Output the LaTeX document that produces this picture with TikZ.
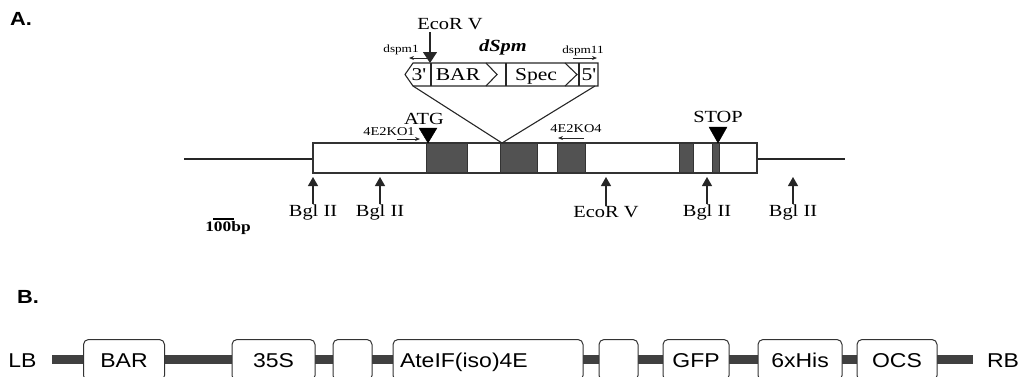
\documentclass[tikz,border=0pt]{standalone}
\usepackage{fontspec}
\newfontfamily\serx[FakeStretch=1.2]{Liberation Serif}
\newfontfamily\sanx[FakeStretch=1.15]{Liberation Sans}
\usetikzlibrary{arrows.meta}
\begin{document}
\begin{tikzpicture}[x=1pt,y=-1pt,
  seri/.style={inner sep=0pt, font=\serx\fontsize{17}{19}\selectfont},
  tiny/.style={inner sep=0pt, font=\serx\fontsize{11}{12}\selectfont},
  sans/.style={inner sep=0pt, font=\sanx\fontsize{20}{22}\selectfont, text height=14.5pt, text depth=0pt},
  head/.style={inner sep=0pt, font=\sanx\bfseries\fontsize{19}{21}\selectfont},
  gline/.style={line width=2.6pt, draw=black!85},
  gbox/.style={line width=1.3pt, draw=black!80},
  exon/.style={line width=1pt, draw=black!80, fill=black!68},
  ins/.style={line width=1.1pt, draw=black!85},
  uarr/.style={line width=1.2pt, draw=black!85, -{Triangle[length=9pt,width=10pt]}},
  darr/.style={line width=1.2pt, draw=black!85, -{Triangle[length=11pt,width=14pt]}},
  parr/.style={line width=0.9pt, draw=black!85, -{Stealth[length=5pt,width=4pt]}},
  tri/.style={fill=black, draw=black},
  bline/.style={line width=9pt, draw=black!75},
  bbox/.style={draw=black!80, line width=1pt, rounded corners=5pt, fill=white,
               minimum height=41pt, inner sep=0pt, font=\sanx\fontsize{20}{22}\selectfont,
               text height=14.5pt, text depth=0pt}
]
\useasboundingbox (0,0) rectangle (1035,376);
\clip (0,0) rectangle (1035,376);

% ---------------- Part A ----------------
\node[head] (hA) at (21,19) {A.};

% genomic lines
\coordinate (L0) at (184,159);
\coordinate (L1) at (313,159);
\coordinate (R0) at (757,159);
\coordinate (R1) at (845,159);
\draw[gline] (L0) -- (L1);
\draw[gline] (R0) -- (R1);

% gene box and exons
\coordinate (g0) at (313,143);
\coordinate (g1) at (757,173);
\draw[gbox, fill=white] (g0) rectangle (g1);
\draw[exon] (426,143) rectangle (467,173);
\draw[exon] (500,143) rectangle (537,173);
\draw[exon] (557,143) rectangle (585,173);
\draw[exon] (679,143) rectangle (693,173);
\draw[exon] (712,143) rectangle (719,173);
\draw[gbox] (g0) rectangle (g1);

% ATG and STOP
\node[seri] (atg) at (424,119) {ATG};
\draw[tri] (419,128) -- (437,128) -- (428,143) -- cycle;
\node[seri] (stop) at (718,117) {STOP};
\draw[tri] (709,127) -- (727,127) -- (718,143) -- cycle;

% primers on gene
\node[inner sep=0pt, font=\serx\fontsize{12}{13}\selectfont] (ko1) at (389,132) {4E2KO1};
\coordinate (ko1a) at (397,139);
\coordinate (ko1b) at (420,139);
\draw[parr] (ko1a) -- (ko1b);
\node[inner sep=0pt, font=\serx\fontsize{12}{13}\selectfont] (ko4) at (576,129) {4E2KO4};
\coordinate (ko4a) at (584,138);
\coordinate (ko4b) at (558,138);
\draw[parr] (ko4a) -- (ko4b);

% restriction sites below
\foreach \n/\x/\t in {s1/313/Bgl II, s2/380/Bgl II, s3/606/EcoR V, s4/707/Bgl II, s5/793/Bgl II}{
  \node[seri] (\n) at (\x,212) {\t};
  \coordinate (\n t) at (\x,177);
  \draw[uarr] (\n.north) -- (\n t);
}

% scale bar
\node[inner sep=0pt, font=\serx\bfseries\fontsize{14.5}{16}\selectfont] (bp) at (228,228) {100bp};
\coordinate (sb0) at (213,219);
\coordinate (sb1) at (234,219);
\draw[line width=1.4pt] (sb0) -- (sb1);

% dSpm insert
\coordinate (i1) at (413,63);
\coordinate (i2) at (598,63);
\coordinate (i3) at (598,86);
\coordinate (i4) at (413,86);
\coordinate (i5) at (405,74.5);
\draw[ins] (i1) -- (i2) -- (i3) -- (i4) -- (i5) -- cycle;
\draw[ins] (431,63) -- (431,86);
\draw[ins] (486,63) -- (497,74.5) -- (486,86);
\draw[ins] (506,63) -- (506,86);
\draw[ins] (565,63) -- (577,74.5) -- (565,86);
\draw[ins] (579,63) -- (579,86);
\node[inner sep=0pt, font=\serx\fontsize{18}{20}\selectfont] (t3) at (419,75) {3'};
\node[inner sep=0pt, font=\serx\fontsize{18}{20}\selectfont] (tbar) at (458,75) {BAR};
\node[inner sep=0pt, font=\serx\fontsize{18}{20}\selectfont] (tspec) at (536,76) {Spec};
\node[inner sep=0pt, font=\serx\fontsize{18}{20}\selectfont] (t5) at (589,75) {5'};
\node[inner sep=0pt, font=\serx\bfseries\itshape\fontsize{17}{19}\selectfont] (dspm) at (503,47) {dSpm};

% insertion lines
\coordinate (ip) at (502,143);
\coordinate (i3b) at (595,86);
\draw[ins] (i4) -- (ip);
\draw[ins] (i3b) -- (ip);

% EcoR V above
\node[seri] (eco) at (450,24) {EcoR V};
\coordinate (eco0) at (430,32);
\coordinate (eco1) at (430,63);
\draw[darr] (eco0) -- (eco1);

% dspm primers
\node[tiny] (p1) at (401,50) {dspm1};
\coordinate (p1a) at (428,58);
\coordinate (p1b) at (409,58);
\draw[parr] (p1a) -- (p1b);
\node[tiny] (p11) at (583,51) {dspm11};
\coordinate (p11a) at (573,58);
\coordinate (p11b) at (597,58);
\draw[parr] (p11a) -- (p11b);

% ---------------- Part B ----------------
\node[head] (hB) at (28,297) {B.};
\node[sans] (LB) at (22.5,360) {LB};
\node[sans] (RB) at (1003,360) {RB};
\coordinate (bl0) at (52,359);
\coordinate (bl1) at (973,359);
\draw[bline] (bl0) -- (bl1);

\node[bbox, minimum width=81pt] (bar) at (124,360) {BAR};
\node[bbox, minimum width=83pt] (s35) at (273.5,360) {35S};
\node[bbox, minimum width=39pt] (e1) at (352.5,360) {};
\node[bbox, minimum width=190pt, text width=176pt, align=left] (ate) at (488,360) {AteIF(iso)4E};
\node[bbox, minimum width=39pt] (e2) at (618.5,360) {};
\node[bbox, minimum width=66pt] (gfp) at (696,360) {GFP};
\node[bbox, minimum width=84pt] (his) at (800,360) {6xHis};
\node[bbox, minimum width=80pt] (ocs) at (897,360) {OCS};
\end{tikzpicture}
\end{document}
